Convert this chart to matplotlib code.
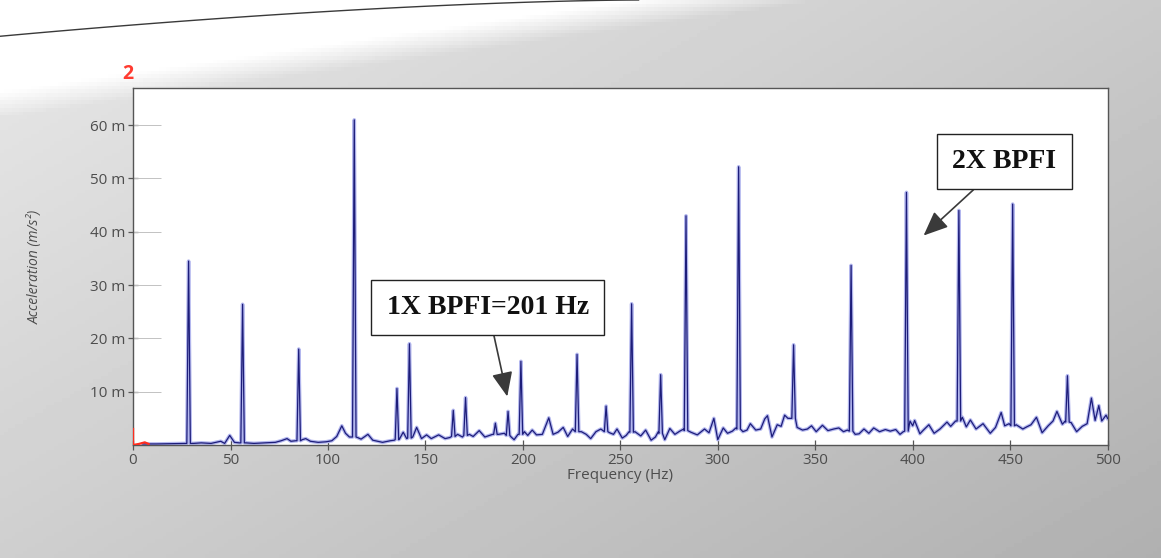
import matplotlib
matplotlib.use("Agg")
import matplotlib.pyplot as plt
from matplotlib.ticker import EngFormatter, FixedLocator
import numpy as np

# noise floor of the envelope spectrum, knots between the lines (Hz, milli m/s^2)
floor_hz = [5, 12, 20, 26,
            31, 35, 40, 45, 47, 49.6, 52, 54.5,
            58, 62, 68, 73, 76, 79, 81, 83.5,
            86.8, 88.6, 91, 95, 99, 102, 104.5, 107.1, 109, 111,
            115.2, 117, 120.5, 123, 128, 132, 134,
            136.8, 138.6, 140.4,
            143.5, 145.5, 148, 150.6, 153, 156.8, 160.1, 162.5,
            166.5, 169,
            172.5, 174.5, 177.6, 180.5, 183, 184.5,
            187.5, 190.5,
            194, 195.5, 197.5,
            200.8, 202.5, 204.8, 207, 210, 213.3, 215.5, 218, 220.7, 223, 225.5,
            230, 232.5, 234.8, 237.5, 240,
            244.5, 246.5, 248.3, 251, 253, 254.5,
            257.5, 260.5, 263, 265.8, 268, 269.5,
            272.8, 275.4, 278, 280.5, 282.5,
            286.2, 289.5, 293.2, 295.5, 298, 300, 302.8, 305, 307.5, 309.3,
            312.9, 315, 316.7, 319.5, 322, 324.1, 325.5, 327.8, 330.5, 332.5, 334.3, 336,
            340.7, 343.5, 346, 348.1, 350.5, 353.7, 356.5, 359.5, 362.1, 364.5, 366.5,
            370.5, 372.5, 375, 377.5, 380, 383, 386, 388.5, 391.3, 393.5, 395.2,
            398.6, 400, 401, 402.5, 403.7, 405.5, 408.3, 411, 414, 417.6, 419.5, 422,
            425.5, 427.5, 429.6, 432.5, 436.1, 439.8, 442.5, 445.4, 447.2, 449.5,
            453.1, 456.5, 458.5, 460.7, 463.5, 466.4, 469.5, 472, 474, 476.8, 478.3,
            481.3, 484.1, 487, 489.5, 491.7, 493.6, 495.5, 497, 499.2, 500]
floor_mms2 = [0.2, 0.2, 0.25, 0.3,
              0.3, 0.4, 0.3, 0.7, 0.3, 1.8, 0.5, 0.4,
              0.4, 0.3, 0.4, 0.5, 0.8, 1.2, 0.7, 0.8,
              1.0, 1.2, 0.7, 0.5, 0.6, 0.8, 1.6, 3.6, 2.2, 1.5,
              1.4, 1.1, 2.0, 0.9, 0.5, 0.8, 0.9,
              1.2, 2.4, 1.2,
              1.5, 3.3, 1.2, 1.9, 1.2, 1.9, 1.2, 1.4,
              2.0, 1.5,
              2.0, 1.6, 2.7, 1.5, 1.8, 2.0,
              2.0, 2.2,
              1.5, 1.0, 2.0,
              2.5, 1.8, 2.8, 1.9, 2.0, 5.1, 2.0, 2.4, 3.3, 1.6, 3.0,
              2.5, 2.0, 1.2, 2.5, 3.0,
              2.3, 2.0, 3.0, 1.3, 1.8, 2.5,
              2.5, 1.7, 2.8, 0.9, 1.5, 2.5,
              1.0, 3.1, 2.0, 2.6, 3.0,
              2.4, 1.9, 3.0, 2.3, 5.0, 1.0, 3.2, 2.2, 2.6, 3.2,
              2.5, 2.8, 4.0, 2.8, 3.0, 4.9, 5.5, 1.5, 3.8, 3.5, 5.6, 5.0,
              3.3, 2.8, 3.0, 3.6, 2.5, 3.7, 2.7, 3.0, 3.2, 2.5, 2.8,
              2.0, 2.1, 3.0, 2.2, 3.2, 2.5, 2.9, 2.6, 2.9, 2.0, 2.5,
              4.5, 3.6, 4.6, 3.2, 2.1, 2.8, 3.8, 2.2, 3.0, 4.3, 3.5, 4.5,
              5.2, 3.4, 4.7, 3.0, 4.0, 2.2, 3.3, 6.1, 3.6, 4.0,
              3.8, 3.0, 3.4, 3.8, 5.2, 2.3, 3.6, 4.5, 6.3, 3.9, 4.5,
              4.2, 2.5, 3.5, 4.0, 8.8, 4.6, 7.4, 4.5, 5.6, 5.0]

# spectral lines: centre (Hz), peak and foot level (milli m/s^2)
peak_hz = [28.5, 56.2, 85.0, 113.5, 135.4, 141.8, 164.3, 170.6, 185.9, 192.4,
           199.0, 227.8, 242.7, 255.8, 270.7, 283.7, 310.7, 338.9, 368.4,
           396.8, 423.7, 451.3, 479.4]
peak_mms2 = [34.5, 26.4, 18.0, 61.0, 10.6, 19.0, 6.5, 8.9, 4.1, 6.3,
             15.7, 17.0, 7.3, 26.5, 13.2, 43.0, 52.2, 18.8, 33.7,
             47.4, 44.0, 45.2, 13.0]
peak_base_mms2 = [0.3, 0.4, 0.8, 1.5, 1.0, 1.3, 1.6, 1.8, 2.0, 1.8,
                  2.0, 2.5, 2.5, 2.4, 2.2, 2.7, 3.0, 5.0, 2.6,
                  2.6, 4.5, 3.6, 4.3]
line_half_width = 0.9

# marker trace at DC
dc_hz = [0, 0, 3, 6, 8]
dc_mms2 = [3.0, 0.0, 0.2, 0.5, 0.2]

hz = list(floor_hz)
acc = list(floor_mms2)
for f, top, base in zip(peak_hz, peak_mms2, peak_base_mms2):
    hz += [f - line_half_width, f, f + line_half_width]
    acc += [base, top, base]
order = np.argsort(hz)
freq = np.array(hz)[order]
accel = np.array(acc)[order] * 1e-3

label_font = "Open Sans"
grey = "#4d4d4d"

fig = plt.figure(figsize=(11.61, 5.58), dpi=100, facecolor="#d3d3d3")

# page background: white corner fading into the grey panel
bg = fig.add_axes([0, 0, 1, 1], zorder=-5)
gx, gy = np.meshgrid(np.linspace(0, 1, 300), np.linspace(0, 1, 150))
shade = 0.91 - 0.12 * gx - 0.10 * gy
corner = np.clip((0.21 - 0.3 * gx - gy) / 0.05, 0, 1)
shade = shade * (1 - corner) + corner
bg.imshow(shade, cmap="gray", vmin=0, vmax=1, aspect="auto", extent=[0, 1, 0, 1], origin="upper")
cx = np.linspace(0, 0.55, 60)
bg.plot(cx, 1 - 0.065 * (1 - cx / 0.55) ** 1.6, color="#3a3a3a", lw=1.0)
bg.set_xlim(0, 1)
bg.set_ylim(0, 1)
bg.axis("off")

ax = fig.add_axes([0.1146, 0.2025, 0.8394, 0.64])
ax.set_facecolor("white")
ax.plot(freq, accel, color="#b3b7ee", lw=2.6, zorder=2)
ax.plot(freq, accel, color="#1d1d7a", lw=0.9, zorder=3)
ax.plot(dc_hz, np.array(dc_mms2) * 1e-3, color="#ff2d1f", lw=1.6, zorder=4)

ax.set_xlim(0, 500)
ax.set_ylim(0, 0.067)
ax.set_xticks(np.arange(0, 501, 50))
yt = np.arange(10, 61, 10) * 1e-3
ax.set_yticks(yt)
ax.yaxis.set_major_formatter(EngFormatter(places=0, sep=" "))
ax.yaxis.set_minor_locator(FixedLocator(yt))
ax.yaxis.remove_overlapping_locs = False

ax.tick_params(axis="both", which="major", direction="inout", length=7, width=0.9,
               color="#555555", labelsize=11, labelcolor=grey, pad=2)
ax.tick_params(axis="y", which="minor", direction="in", length=20, width=0.7, color="#c2c2c2")
for lab in ax.get_xticklabels() + ax.get_yticklabels():
    lab.set_fontfamily(label_font)
for sp in ax.spines.values():
    sp.set_color("#555555")
    sp.set_linewidth(1.0)

ax.set_xlabel("Frequency (Hz)", fontsize=11, color=grey, family=label_font, labelpad=0)
ax.set_ylabel("Acceleration (m/s²)", fontsize=10, color=grey, family=label_font,
              style="italic", labelpad=34)

ax.text(-0.005, 1.01, "2", transform=ax.transAxes, color="#ff3b30", fontsize=14,
        fontweight="bold", ha="center", va="bottom", family=label_font)

box = dict(boxstyle="square,pad=0.55", fc="white", ec="#222222", lw=1.0)
arrow = dict(arrowstyle="-|>,head_length=0.75,head_width=0.32", color="#3a3a3a",
             lw=1.2, shrinkA=0, shrinkB=0)
ax.annotate("1X BPFI=201 Hz", xy=(192, 0.0091), xytext=(182, 0.0258),
            ha="center", va="center", fontsize=20, fontweight="bold",
            family="Liberation Serif", color="#111111", bbox=box, arrowprops=arrow, zorder=6)
ax.annotate("2X BPFI", xy=(405.6, 0.0393), xytext=(447, 0.0532),
            ha="center", va="center", fontsize=20, fontweight="bold",
            family="Liberation Serif", color="#111111", bbox=box, arrowprops=arrow, zorder=6)

fig.savefig("out.png", dpi=100, facecolor=fig.get_facecolor())
